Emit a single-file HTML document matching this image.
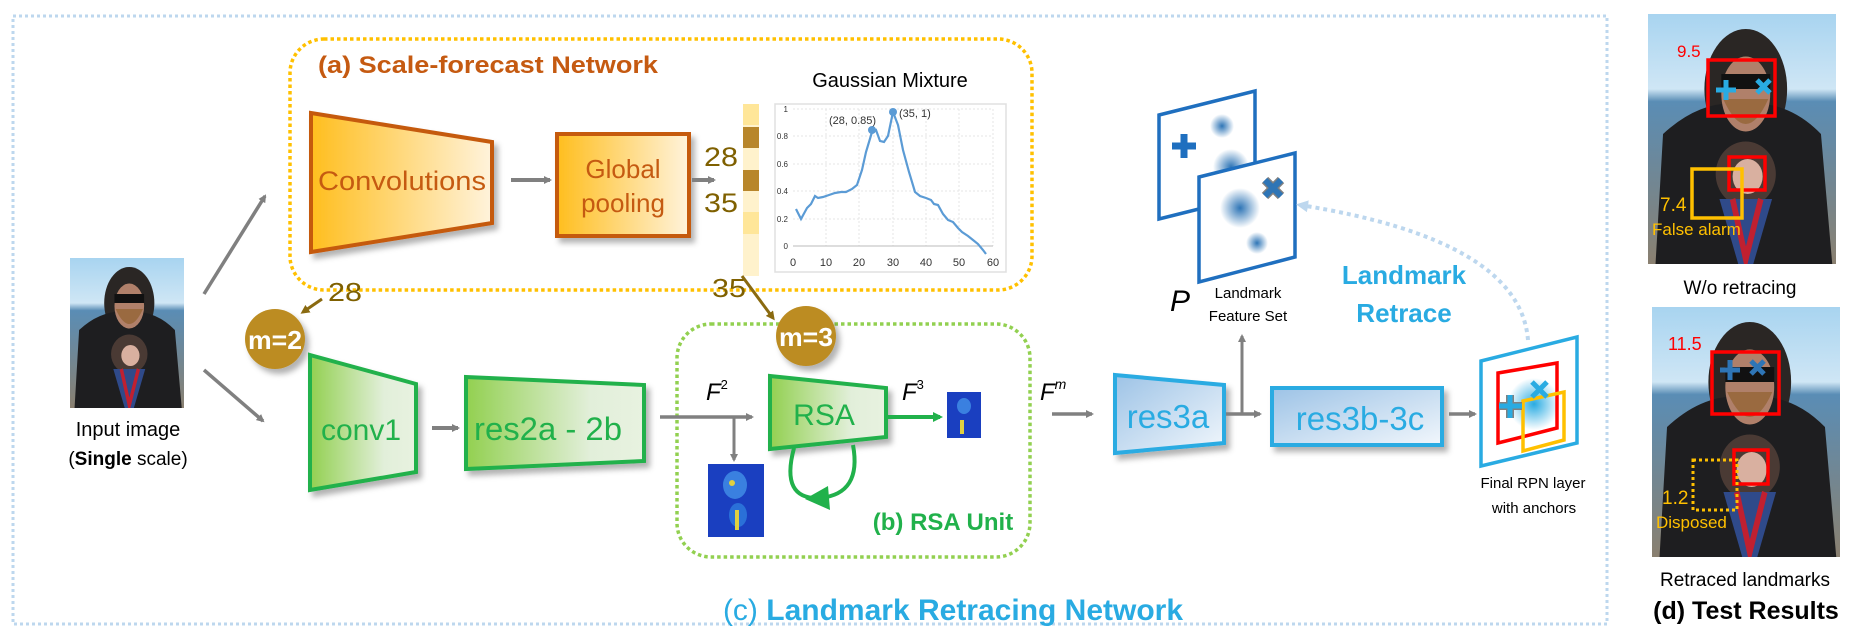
<!DOCTYPE html>
<html><head><meta charset="utf-8"><style>
html,body{margin:0;padding:0;background:#fff;width:1856px;height:642px;overflow:hidden}
svg{display:block}
text{font-family:"Liberation Sans",sans-serif}
</style></head><body>
<svg width="1856" height="642" viewBox="0 0 1856 642" xmlns="http://www.w3.org/2000/svg">
<defs>
<linearGradient id="og" x1="0" x2="1" y1="0" y2="0"><stop offset="0" stop-color="#ffbe1e"/><stop offset="1" stop-color="#fff3dc"/></linearGradient>
<linearGradient id="gg" x1="0" x2="1" y1="0" y2="0"><stop offset="0" stop-color="#92d050"/><stop offset="0.7" stop-color="#e2efda"/><stop offset="1" stop-color="#e8f2e0"/></linearGradient>
<linearGradient id="bg" x1="0" x2="1" y1="0" y2="1"><stop offset="0" stop-color="#9dc3e6"/><stop offset="1" stop-color="#f2f7fc"/></linearGradient>
<linearGradient id="sky" x1="0" x2="0" y1="0" y2="1"><stop offset="0" stop-color="#a8d4f0"/><stop offset="0.3" stop-color="#cfe6f5"/><stop offset="0.35" stop-color="#5a8db5"/><stop offset="1" stop-color="#8a8070"/></linearGradient>
<radialGradient id="blob"><stop offset="0" stop-color="#2e75b6"/><stop offset="1" stop-color="#2e75b6" stop-opacity="0"/></radialGradient>
<radialGradient id="blob2"><stop offset="0" stop-color="#29abe2"/><stop offset="1" stop-color="#29abe2" stop-opacity="0"/></radialGradient>
<marker id="ag" markerWidth="8" markerHeight="8" refX="6" refY="4" orient="auto" markerUnits="userSpaceOnUse"><path d="M0,0 L8,4 L0,8z" fill="#808080"/></marker>
<marker id="agr" markerWidth="10" markerHeight="10" refX="7" refY="5" orient="auto" markerUnits="userSpaceOnUse"><path d="M0,0 L10,5 L0,10z" fill="#21b14b"/></marker>
<marker id="abr" markerWidth="9" markerHeight="9" refX="6" refY="4.5" orient="auto" markerUnits="userSpaceOnUse"><path d="M0,0 L9,4.5 L0,9z" fill="#8a6a10"/></marker>
<marker id="alb" markerWidth="12" markerHeight="12" refX="8" refY="6" orient="auto" markerUnits="userSpaceOnUse"><path d="M0,0 L12,6 L0,12z" fill="#bdd7ee"/></marker>
<filter id="sh" x="-10%" y="-10%" width="130%" height="140%"><feDropShadow dx="4" dy="5" stdDeviation="3" flood-color="#000" flood-opacity="0.3"/></filter>
<g id="person">
<rect x="0" y="0" width="100" height="100" fill="url(#sky)"/>
<ellipse cx="52" cy="30" rx="22" ry="24" fill="#2a2624"/>
<path d="M4,100 L8,48 Q28,34 50,36 Q74,34 92,48 L98,100z" fill="#1e1e20"/>
<ellipse cx="52" cy="32" rx="13" ry="15" fill="#b0806a"/>
<rect x="39" y="24" width="26" height="6" fill="#111"/>
<path d="M40,34 Q52,54 64,34z" fill="#9a6a40"/>
<ellipse cx="52" cy="64" rx="16" ry="13" fill="#4a3a34"/>
<ellipse cx="53" cy="65" rx="8" ry="7" fill="#d9b0a0"/>
<path d="M38,74 L66,74 L56,100 L48,100z" fill="#2f4a8a"/>
<path d="M45,74 L52,98 L60,74" fill="none" stroke="#c02030" stroke-width="3"/>
</g>
</defs>

<rect x="13" y="16" width="1594" height="608" fill="none" stroke="#bdd7ee" stroke-width="3" stroke-dasharray="3,3"/>
<rect x="290" y="39" width="742" height="251" rx="34" fill="none" stroke="#ffc000" stroke-width="3.5" stroke-dasharray="3.5,3"/>
<text x="318" y="73" font-size="24" font-weight="bold" fill="#c55a11" textLength="340" lengthAdjust="spacingAndGlyphs">(a) Scale-forecast Network</text>

<path d="M311,113 L492,142 L492,223 L311,252z" fill="url(#og)" stroke="#c55a11" stroke-width="4" filter="url(#sh)"/>
<text x="402" y="190" font-size="27" fill="#c55a11" text-anchor="middle" textLength="168" lengthAdjust="spacingAndGlyphs">Convolutions</text>
<line x1="511" y1="180" x2="550" y2="180" stroke="#808080" stroke-width="4" marker-end="url(#ag)"/>
<rect x="557" y="134" width="132" height="102" fill="url(#og)" stroke="#c55a11" stroke-width="4" filter="url(#sh)"/>
<text x="623" y="178" font-size="26" fill="#c55a11" text-anchor="middle">Global</text>
<text x="623" y="212" font-size="26" fill="#c55a11" text-anchor="middle">pooling</text>
<line x1="692" y1="180" x2="714" y2="180" stroke="#808080" stroke-width="4" marker-end="url(#ag)"/>
<text x="704" y="166" font-size="27" fill="#7f6000" textLength="34" lengthAdjust="spacingAndGlyphs">28</text>
<text x="704" y="212" font-size="27" fill="#7f6000" textLength="34" lengthAdjust="spacingAndGlyphs">35</text>
<g>
<rect x="743" y="104" width="16" height="172" fill="#fff2cc"/>
<rect x="743" y="104" width="16" height="21" fill="#ffe699"/>
<rect x="743" y="127" width="16" height="21" fill="#b8862b"/>
<rect x="743" y="170" width="16" height="21" fill="#b8862b"/>
<rect x="743" y="212" width="16" height="22" fill="#ffe699"/>
</g>
<text x="890" y="87" font-size="20" fill="#000" text-anchor="middle">Gaussian Mixture</text>
<rect x="775" y="104" width="231" height="168" fill="#fff" stroke="#e0e0e0" stroke-width="1.5"/>
<g stroke="#e6e6e6" stroke-width="1" stroke-dasharray="2,2">
<line x1="793" y1="109" x2="993" y2="109"/><line x1="793" y1="136" x2="993" y2="136"/><line x1="793" y1="164" x2="993" y2="164"/><line x1="793" y1="191" x2="993" y2="191"/><line x1="793" y1="219" x2="993" y2="219"/>
<line x1="826" y1="109" x2="826" y2="246"/><line x1="859" y1="109" x2="859" y2="246"/><line x1="893" y1="109" x2="893" y2="246"/><line x1="926" y1="109" x2="926" y2="246"/><line x1="959" y1="109" x2="959" y2="246"/><line x1="993" y1="109" x2="993" y2="246"/>
</g>
<line x1="793" y1="246" x2="993" y2="246" stroke="#bbb"/>
<g font-size="8" fill="#333" text-anchor="end"><text x="788" y="112">1</text><text x="788" y="139">0.8</text><text x="788" y="167">0.6</text><text x="788" y="194">0.4</text><text x="788" y="222">0.2</text><text x="788" y="249">0</text></g>
<g font-size="11" fill="#333" text-anchor="middle"><text x="793" y="266">0</text><text x="826" y="266">10</text><text x="859" y="266">20</text><text x="893" y="266">30</text><text x="926" y="266">40</text><text x="959" y="266">50</text><text x="993" y="266">60</text></g>
<polyline fill="none" stroke="#5b9bd5" stroke-width="2.2" points="796,209 801,219 807,208 811,204 815,196 818,198 823,197 829,195 835,193 841,192 846,192 852,189 857,185 862,170 866,152 872,132 876,130 880,141 884,142 888,136 893,112 898,125 903,150 909,172 915,192 920,196 926,198 931,200 934,204 938,205 943,214 948,220 953,222 958,228 962,232 968,236 973,240 978,244 983,250 986,254"/>
<circle cx="872" cy="130" r="4" fill="#5b9bd5"/><circle cx="893" cy="112" r="4" fill="#5b9bd5"/>
<text x="829" y="124" font-size="11" fill="#333">(28, 0.85)</text>
<text x="899" y="117" font-size="11" fill="#333">(35, 1)</text>

<svg x="70" y="258" width="114" height="150" viewBox="0 0 100 100" preserveAspectRatio="none"><use href="#person"/></svg>
<text x="128" y="436" font-size="20" fill="#000" text-anchor="middle">Input image</text>
<text x="128" y="465" font-size="19" fill="#000" text-anchor="middle">(<tspan font-weight="bold">Single</tspan> scale)</text>
<line x1="204" y1="294" x2="265" y2="196" stroke="#808080" stroke-width="3.5" marker-end="url(#ag)"/>
<line x1="204" y1="370" x2="263" y2="421" stroke="#808080" stroke-width="3.5" marker-end="url(#ag)"/>

<line x1="322" y1="299" x2="303" y2="312" stroke="#8a6a10" stroke-width="3" marker-end="url(#abr)"/>
<text x="328" y="301" font-size="26" fill="#7f6000" textLength="34" lengthAdjust="spacingAndGlyphs">28</text>
<circle cx="275" cy="339" r="30" fill="#bc8c22" filter="url(#sh)"/>
<text x="275" y="349" font-size="26" fill="#fff" font-weight="bold" text-anchor="middle" textLength="54" lengthAdjust="spacingAndGlyphs">m=2</text>

<path d="M310,355 L416,384 L416,472 L310,490z" fill="url(#gg)" stroke="#21b14b" stroke-width="4" filter="url(#sh)"/>
<text x="361" y="440" font-size="30" fill="#21b14b" text-anchor="middle">conv1</text>
<line x1="432" y1="428" x2="458" y2="428" stroke="#808080" stroke-width="4" marker-end="url(#ag)"/>
<path d="M466,377 L644,385 L644,461 L466,469z" fill="url(#gg)" stroke="#21b14b" stroke-width="4" filter="url(#sh)"/>
<text x="548" y="440" font-size="32" fill="#21b14b" text-anchor="middle" textLength="148" lengthAdjust="spacingAndGlyphs">res2a - 2b</text>

<rect x="677" y="324" width="353" height="233" rx="34" fill="none" stroke="#92d050" stroke-width="3.5" stroke-dasharray="3.5,3"/>
<line x1="742" y1="276" x2="773" y2="318" stroke="#8a6a10" stroke-width="3" marker-end="url(#abr)"/>
<text x="712" y="297" font-size="26" fill="#7f6000" textLength="34" lengthAdjust="spacingAndGlyphs">35</text>
<line x1="660" y1="417" x2="752" y2="417" stroke="#808080" stroke-width="3.5" marker-end="url(#ag)"/>
<line x1="734" y1="417" x2="734" y2="460" stroke="#808080" stroke-width="3" marker-end="url(#ag)"/>
<text x="706" y="400" font-size="24" font-style="italic" fill="#000" font-family="Liberation Serif">F<tspan font-size="13" dy="-11" font-style="normal">2</tspan></text>
<path d="M770,376 L886,388 L886,437 L770,449z" fill="url(#gg)" stroke="#21b14b" stroke-width="4" filter="url(#sh)"/>
<text x="824" y="425" font-size="30" fill="#21b14b" text-anchor="middle">RSA</text>
<circle cx="806" cy="336" r="30" fill="#bc8c22" filter="url(#sh)"/>
<text x="806" y="346" font-size="26" fill="#fff" font-weight="bold" text-anchor="middle" textLength="54" lengthAdjust="spacingAndGlyphs">m=3</text>
<path d="M794,448 Q780,500 820,498 Q862,494 853,445" fill="none" stroke="#21b14b" stroke-width="4"/>
<path d="M828,486 L805,499 L830,510z" fill="#21b14b"/>
<text x="902" y="400" font-size="24" font-style="italic" fill="#000" font-family="Liberation Serif">F<tspan font-size="13" dy="-11" font-style="normal">3</tspan></text>
<line x1="886" y1="417" x2="940" y2="417" stroke="#21b14b" stroke-width="4" marker-end="url(#agr)"/>
<rect x="947" y="392" width="34" height="46" fill="#1a3fc0"/>
<ellipse cx="964" cy="406" rx="7" ry="8" fill="#3a80e0"/><rect x="960" y="420" width="4" height="14" fill="#e0d040"/>
<rect x="708" y="464" width="56" height="73" fill="#1a3fc0"/>
<ellipse cx="735" cy="485" rx="12" ry="14" fill="#3a80e0"/><ellipse cx="738" cy="515" rx="9" ry="12" fill="#2a70d8"/>
<rect x="735" y="510" width="4" height="20" fill="#e0d040"/><circle cx="732" cy="483" r="3" fill="#e0d040"/>
<text x="943" y="530" font-size="24" font-weight="bold" fill="#21b14b" text-anchor="middle">(b) RSA Unit</text>

<text x="1040" y="400" font-size="24" font-style="italic" fill="#000" font-family="Liberation Serif">F<tspan font-size="14" dy="-11">m</tspan></text>
<line x1="1052" y1="414" x2="1092" y2="414" stroke="#808080" stroke-width="3.5" marker-end="url(#ag)"/>
<path d="M1115,375 L1224,385 L1224,443 L1115,453z" fill="url(#bg)" stroke="#29abe2" stroke-width="4" filter="url(#sh)"/>
<text x="1168" y="428" font-size="33" fill="#29abe2" text-anchor="middle">res3a</text>
<line x1="1226" y1="414" x2="1260" y2="414" stroke="#808080" stroke-width="3.5" marker-end="url(#ag)"/>
<line x1="1242" y1="414" x2="1242" y2="336" stroke="#808080" stroke-width="3" marker-end="url(#ag)"/>
<rect x="1272" y="388" width="170" height="57" fill="url(#bg)" stroke="#29abe2" stroke-width="4" filter="url(#sh)"/>
<text x="1360" y="430" font-size="33" fill="#29abe2" text-anchor="middle">res3b-3c</text>
<line x1="1449" y1="414" x2="1475" y2="414" stroke="#808080" stroke-width="3.5" marker-end="url(#ag)"/>

<path d="M1481,361 L1577,337 L1577,443 L1481,466z" fill="#fff" stroke="#29abe2" stroke-width="3.5"/>
<ellipse cx="1534" cy="404" rx="26" ry="26" fill="url(#blob2)"/>
<path d="M1498,373 L1557,363 L1557,428 L1498,443z" fill="none" stroke="#ff0000" stroke-width="3.5"/>
<path d="M1523,401 L1564,392 L1564,440 L1523,451z" fill="none" stroke="#ffc000" stroke-width="3.5"/>
<g stroke="#808080" stroke-width="8"><line x1="1510" y1="395" x2="1510" y2="418"/><line x1="1499" y1="406" x2="1522" y2="406"/></g>
<g stroke="#29abe2" stroke-width="5"><line x1="1510" y1="395" x2="1510" y2="418"/><line x1="1499" y1="406" x2="1522" y2="406"/></g>
<g stroke="#29abe2" stroke-width="5"><line x1="1532" y1="382" x2="1547" y2="397"/><line x1="1547" y1="382" x2="1532" y2="397"/></g>
<text x="1533" y="488" font-size="15" fill="#000" text-anchor="middle">Final RPN layer</text>
<text x="1534" y="513" font-size="15" fill="#000" text-anchor="middle">with anchors</text>

<path d="M1159,115 L1255,91 L1255,195 L1159,219z" fill="#fff" stroke="#1f6fbf" stroke-width="3.5"/>
<circle cx="1222" cy="126" r="12" fill="url(#blob)"/>
<circle cx="1231" cy="167" r="18" fill="url(#blob)"/>
<g stroke="#1f6fbf" stroke-width="7"><line x1="1184" y1="134" x2="1184" y2="158"/><line x1="1172" y1="146" x2="1196" y2="146"/></g>
<path d="M1199,177 L1295,153 L1295,257 L1199,282z" fill="#fff" stroke="#1f6fbf" stroke-width="3.5"/>
<circle cx="1240" cy="208" r="20" fill="url(#blob)"/>
<circle cx="1257" cy="243" r="11" fill="url(#blob)"/>
<g stroke="#808080" stroke-width="9"><line x1="1265" y1="180" x2="1281" y2="196"/><line x1="1281" y1="180" x2="1265" y2="196"/></g>
<g stroke="#2e75b6" stroke-width="6"><line x1="1265" y1="180" x2="1281" y2="196"/><line x1="1281" y1="180" x2="1265" y2="196"/></g>
<text x="1170" y="311" font-size="30" font-style="italic" fill="#000" font-family="Liberation Serif">P</text>
<text x="1248" y="298" font-size="15" fill="#000" text-anchor="middle">Landmark</text>
<text x="1248" y="321" font-size="15" fill="#000" text-anchor="middle">Feature Set</text>
<text x="1404" y="284" font-size="26" font-weight="bold" fill="#29abe2" text-anchor="middle">Landmark</text>
<text x="1404" y="322" font-size="26" font-weight="bold" fill="#29abe2" text-anchor="middle">Retrace</text>
<path d="M1528,340 Q1520,240 1300,205" fill="none" stroke="#bdd7ee" stroke-width="4" stroke-dasharray="4,4" marker-end="url(#alb)"/>

<text x="953" y="620" font-size="30" font-weight="bold" fill="#29abe2" text-anchor="middle"><tspan font-weight="normal">(c)</tspan> Landmark Retracing Network</text>

<svg x="1648" y="14" width="188" height="250" viewBox="0 0 100 100" preserveAspectRatio="none"><use href="#person"/></svg>
<rect x="1708" y="60" width="67" height="56" fill="none" stroke="#ff0000" stroke-width="3.5"/>
<rect x="1729" y="157" width="36" height="33" fill="none" stroke="#ff0000" stroke-width="3.5"/>
<rect x="1692" y="169" width="50" height="49" fill="none" stroke="#ffc000" stroke-width="3.5"/>
<g stroke="#29abe2" stroke-width="5"><line x1="1726" y1="80" x2="1726" y2="100"/><line x1="1716" y1="90" x2="1736" y2="90"/><line x1="1757" y1="80" x2="1770" y2="93"/><line x1="1770" y1="80" x2="1757" y2="93"/></g>
<text x="1677" y="57" font-size="17" fill="#ff0000">9.5</text>
<text x="1660" y="211" font-size="19" fill="#ffc000">7.4</text>
<text x="1652" y="235" font-size="17" fill="#ffc000">False alarm</text>
<text x="1740" y="294" font-size="19" fill="#000" text-anchor="middle">W/o retracing</text>
<svg x="1652" y="307" width="188" height="250" viewBox="0 0 100 100" preserveAspectRatio="none"><use href="#person"/></svg>
<rect x="1712" y="352" width="67" height="62" fill="none" stroke="#ff0000" stroke-width="3.5"/>
<rect x="1734" y="450" width="34" height="34" fill="none" stroke="#ff0000" stroke-width="3.5"/>
<rect x="1693" y="460" width="44" height="50" fill="none" stroke="#ffc000" stroke-width="3" stroke-dasharray="3,3"/>
<g stroke="#2e75b6" stroke-width="5"><line x1="1730" y1="360" x2="1730" y2="380"/><line x1="1720" y1="370" x2="1740" y2="370"/><line x1="1751" y1="361" x2="1764" y2="374"/><line x1="1764" y1="361" x2="1751" y2="374"/></g>
<text x="1668" y="350" font-size="18" fill="#ff0000">11.5</text>
<text x="1662" y="504" font-size="19" fill="#ffc000">1.2</text>
<text x="1656" y="528" font-size="17" fill="#ffc000">Disposed</text>
<text x="1745" y="586" font-size="19" fill="#000" text-anchor="middle">Retraced landmarks</text>
<text x="1746" y="619" font-size="25" font-weight="bold" fill="#000" text-anchor="middle">(d) Test Results</text>
</svg>
</body></html>
